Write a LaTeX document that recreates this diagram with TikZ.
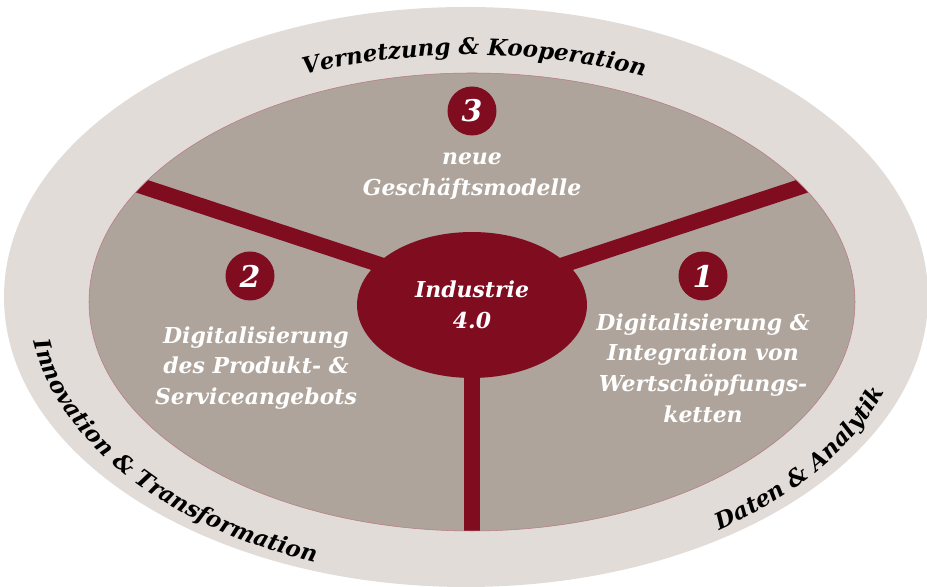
\documentclass[tikz,border=0pt]{standalone}
\usepackage{fontspec}
\setmainfont{DejaVu Serif}
\usetikzlibrary{shapes.geometric,decorations.text,positioning,calc}
\definecolor{pwcred}{HTML}{800C20}
\definecolor{ringgrey}{HTML}{E1DCD8}
\definecolor{fieldgrey}{HTML}{AEA49B}
\newcommand{\ringfont}{\fontsize{13}{15}\selectfont\bfseries\itshape}
\newcommand{\fieldfont}{\fontsize{12.5}{17.5}\selectfont\bfseries\itshape}

\begin{document}
\begin{tikzpicture}[x=0.02cm,y=0.02cm,
  num node/.style={circle,fill=pwcred,text=white,minimum size=0.98cm,inner sep=0pt,
    font=\fontsize{17}{17}\selectfont\bfseries\itshape},
  field text/.style={text=white,align=center,font=\fieldfont},
  hub node/.style={ellipse,fill=pwcred,text=white,align=center,minimum width=4.6cm,
    minimum height=2.92cm,inner sep=0pt,font=\fieldfont},
  spoke/.style={pwcred,line width=0.31cm},
  ring text/.style={decorate,decoration={text along path,text align=center,
    text={|\ringfont|#1}}}]
  \useasboundingbox (0,0) rectangle (927,587);
  % rings
  \fill[ringgrey] (466,290) ellipse [x radius=462,y radius=290];
  \fill[fieldgrey] (472,285) ellipse [x radius=383,y radius=229];
  % spokes
  \coordinate (end1) at (803,401);
  \coordinate (end2) at (141,401);
  \coordinate (end3) at (472,40);
  \coordinate (mid) at (472,292);
  \begin{scope}
    \clip (472,285) ellipse [x radius=383,y radius=229];
    \draw[spoke] (mid) -- ($(mid)!1.1!(end1)$);
    \draw[spoke] (mid) -- ($(mid)!1.1!(end2)$);
    \draw[spoke] (mid) -- (end3);
  \end{scope}
  \draw[pwcred!55,line width=0.3pt] (472,285) ellipse [x radius=383,y radius=229];
  \node[hub node] (hub) at (472,282) {Industrie\\4.0};
  % fields
  \node[num node] (num3) at (472,476) {3};
  \node[field text] (txt3) [below of=num3,node distance=1.3cm] {neue\\Geschäftsmodelle};
  \node[num node] (num2) at (250,311) {2};
  \node[field text] (txt2) at (256,219) {Digitalisierung\\des Produkt- \&\\Serviceangebots};
  \node[num node] (num1) at (703,311) {1};
  \node[field text] (txt1) at (703,219) {Digitalisierung \&\\Integration von\\Wertschöpfungs-\\ketten};
  % ring labels
  \path[ring text={Vernetzung {\&} Kooperation}] (469,287) ++(149:425 and 245)
    arc [start angle=149,end angle=29,x radius=425,y radius=245];
  \path[ring text={Innovation {\&} Transformation}] (469,287) ++(165:440 and 280)
    arc [start angle=165,end angle=265,x radius=440,y radius=280];
  \path[ring text={Daten {\&} Analytik}] (469,287) ++(294:440 and 280)
    arc [start angle=294,end angle=356,x radius=440,y radius=280];
\end{tikzpicture}
\end{document}
